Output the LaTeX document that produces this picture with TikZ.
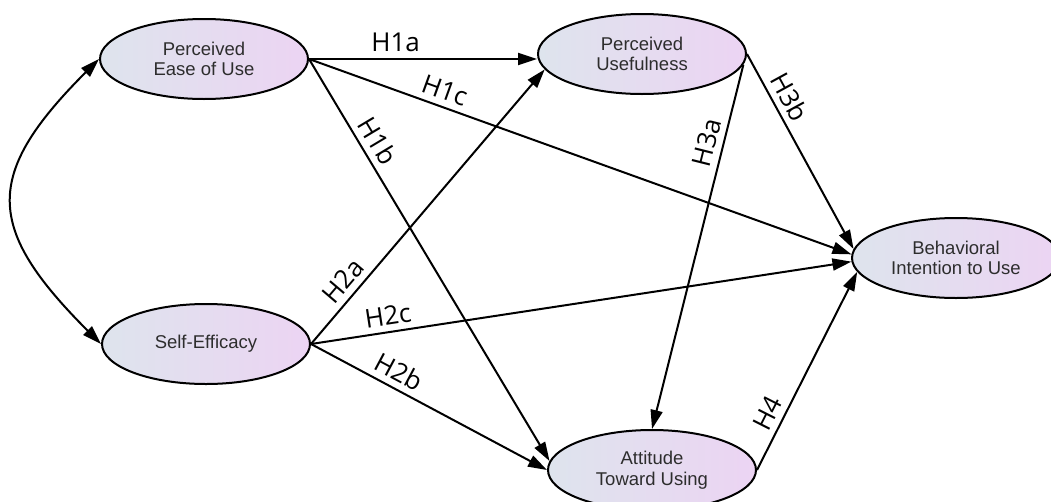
\documentclass[tikz,border=0pt]{standalone}
\usepackage{fontspec}
\setmainfont{Liberation Sans}
\newfontfamily\labfont{Open Sans}
\usetikzlibrary{shapes.geometric,arrows.meta}
\definecolor{lblue}{RGB}{222,228,237}
\definecolor{lpink}{RGB}{236,212,243}
\definecolor{txtgray}{RGB}{45,45,45}
\begin{document}
\begin{tikzpicture}[x=1pt,y=-1pt,
  construct/.style={ellipse, draw, line width=2pt, minimum width=208pt, minimum height=80pt,
    inner sep=0pt, left color=lblue, right color=lpink, align=center, text=txtgray,
    font=\fontsize{18.5}{20.5}\selectfont},
  tip/.style={Triangle[length=19pt,width=12pt]},
  link/.style={line width=2pt, -{Triangle[length=19pt,width=12pt]}},
  hyp/.style={sloped, above=6pt, inner sep=0pt, font=\labfont\fontsize{26}{26}\selectfont}]
\useasboundingbox (0,0) rectangle (1051,501);
\node[construct] (PE) at (204,59) {Perceived\\Ease of Use};
\node[construct] (PU) at (642,54) {Perceived\\Usefulness};
\node[construct] (SE) at (206,344) {Self-Efficacy};
\node[construct] (BI) at (956,258) {Behavioral\\Intention to Use};
\node[construct] (AT) at (652,470) {Attitude\\Toward Using};
\draw[line width=2pt, {Triangle[length=19pt,width=12pt]}-{Triangle[length=19pt,width=12pt]}]
  (PE.west) .. controls +(-116,116) and +(-116,-116) .. (SE.west);
\draw[link] (PE.east) -- node[hyp, pos=0.38]{H1a} (PU.west |- PE.east);
\draw[link] (PE.east) -- node[hyp, pos=0.24]{H1c} (BI.178);
\draw[link] (PE.east) -- node[hyp, pos=0.225]{H1b} (AT.175);
\draw[link] (SE.east) -- node[hyp, pos=0.19]{H2a} (PU.189);
\draw[link] (SE.east) -- node[hyp, pos=0.147]{H2c} (BI.182);
\draw[link] (SE.east) -- node[hyp, pos=0.34]{H2b} (AT.west);
\draw[link] (PU.354) -- node[hyp, pos=0.225]{H3a} (AT.north);
\draw[link] (PU.east) -- node[hyp, pos=0.26]{H3b} (BI.175);
\draw[link] (AT.east) -- node[hyp, pos=0.25]{H4} (BI.188);
\end{tikzpicture}
\end{document}
